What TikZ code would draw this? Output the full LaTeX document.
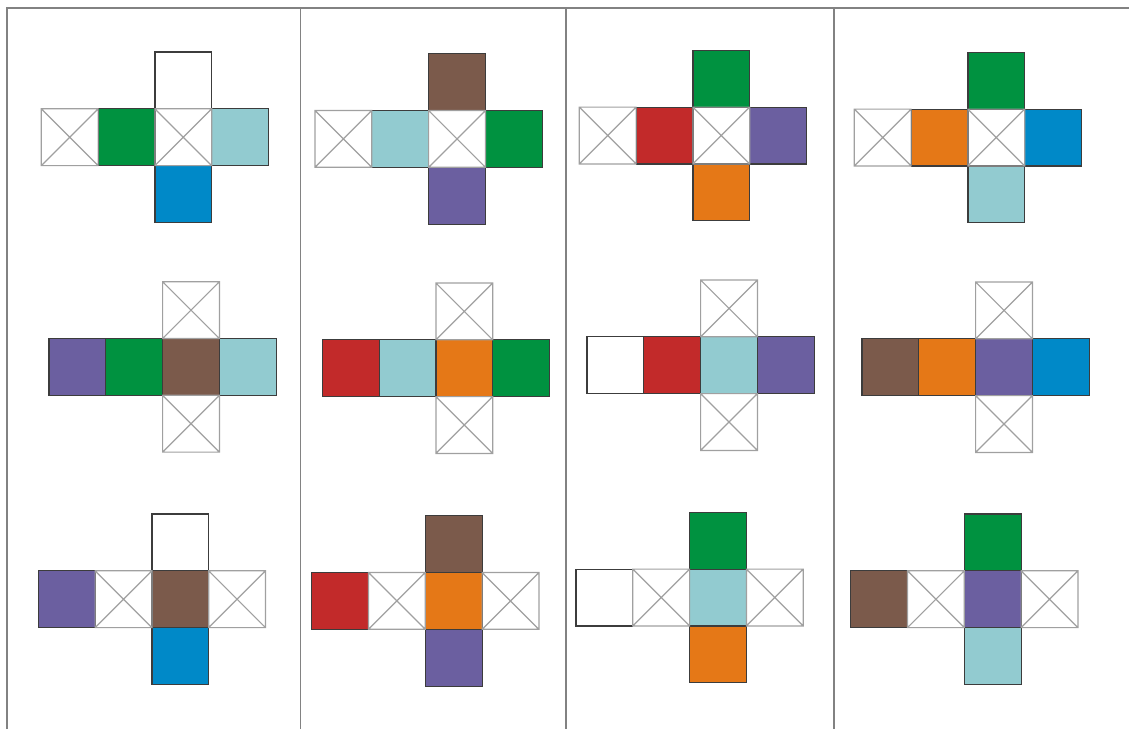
\documentclass[tikz,border=0pt]{standalone}
\definecolor{cgreen}{RGB}{0,146,64}
\definecolor{clblue}{RGB}{146,203,208}
\definecolor{cblue}{RGB}{0,137,200}
\definecolor{cbrown}{RGB}{123,90,75}
\definecolor{cpurple}{RGB}{107,95,160}
\definecolor{cred}{RGB}{194,42,42}
\definecolor{corange}{RGB}{229,120,23}
\definecolor{cwhite}{RGB}{255,255,255}
\definecolor{edgecol}{RGB}{60,60,60}
\definecolor{crosscol}{RGB}{160,160,160}
\definecolor{framecol}{RGB}{130,130,130}
\tikzset{
  facebox/.style={fill=#1, draw=edgecol, line width=1.2pt},
  crossbox/.style={draw=crosscol, line width=1.2pt},
  frameline/.style={draw=framecol, line width=1.3pt}
}
\def\sqs{56.8}
\def\markX{X}
\newcommand\cellC[3]{%
  \def\tmpc{#3}%
  \ifx\tmpc\markX\else
    \path[facebox=#3] (#1,#2) rectangle ++(\sqs,\sqs);
  \fi}
\newcommand\cellX[3]{%
  \def\tmpc{#3}%
  \ifx\tmpc\markX
    \path[crossbox] (#1,#2) rectangle ++(\sqs,\sqs)
      (#1,#2) -- ++(\sqs,\sqs) (#1+\sqs,#2) -- ++(-\sqs,\sqs);
  \fi}
% \netcross{x0}{y0}{c0}{c1}{c2}{c3}{top}{bottom}
\newcommand\netcross[8]{%
  \foreach \pass in {C,X}{%
    \csname cell\pass\endcsname{#1}{#2+\sqs}{#3}%
    \csname cell\pass\endcsname{#1+\sqs}{#2+\sqs}{#4}%
    \csname cell\pass\endcsname{#1+2*\sqs}{#2+\sqs}{#5}%
    \csname cell\pass\endcsname{#1+3*\sqs}{#2+\sqs}{#6}%
    \csname cell\pass\endcsname{#1+2*\sqs}{#2}{#7}%
    \csname cell\pass\endcsname{#1+2*\sqs}{#2+2*\sqs}{#8}%
  }}
\begin{document}
\begin{tikzpicture}[x=1pt,y=-1pt]
\useasboundingbox[fill=white] (0,0) rectangle (1129,729);
% frame
\coordinate (tl) at (7,8);
\coordinate (tr) at (1129,8);
\coordinate (bl) at (7,729);
\draw[frameline] (bl) -- (tl) -- (tr);
\foreach \xd [count=\i] in {300.5,566,834}{
  \coordinate (dt\i) at (\xd,8);
  \coordinate (db\i) at (\xd,729);
  \draw[frameline] (dt\i) -- (db\i);
}
% row 1
\netcross{41.3}{52}{X}{cgreen}{X}{clblue}{cwhite}{cblue}
\netcross{315}{53.7}{X}{clblue}{X}{cgreen}{cbrown}{cpurple}
\netcross{579.3}{50.3}{X}{cred}{X}{cpurple}{cgreen}{corange}
\netcross{854.3}{52.3}{X}{corange}{X}{cblue}{cgreen}{clblue}
% row 2
\netcross{49}{281.7}{cpurple}{cgreen}{cbrown}{clblue}{X}{X}
\netcross{322.3}{283}{cred}{clblue}{corange}{cgreen}{X}{X}
\netcross{587}{280}{cwhite}{cred}{clblue}{cpurple}{X}{X}
\netcross{862}{282}{cbrown}{corange}{cpurple}{cblue}{X}{X}
% row 3
\netcross{38.3}{514}{cpurple}{X}{cbrown}{X}{cwhite}{cblue}
\netcross{311.7}{515.7}{cred}{X}{corange}{X}{cbrown}{cpurple}
\netcross{576}{512.3}{cwhite}{X}{clblue}{X}{cgreen}{corange}
\netcross{850.7}{514}{cbrown}{X}{cpurple}{X}{cgreen}{clblue}
\end{tikzpicture}
\end{document}
